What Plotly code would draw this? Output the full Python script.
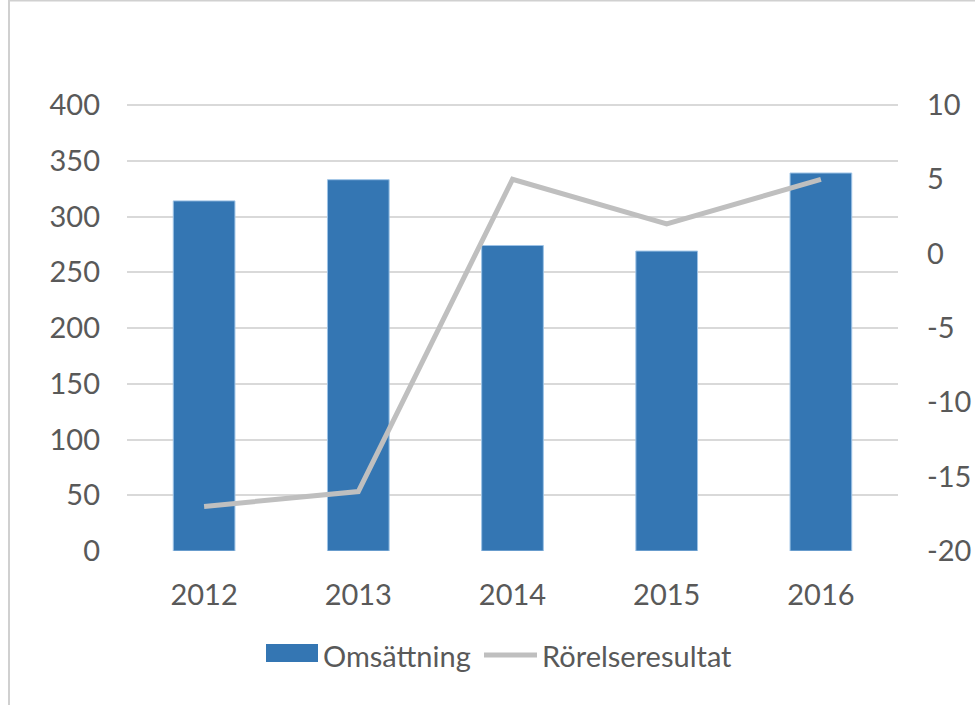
import plotly.graph_objects as go

years = ["2012", "2013", "2014", "2015", "2016"]
omsattning = [314, 333, 274, 269, 339]
rorelseresultat = [-17, -16, 5, 2, 5]
left_ticks = [0, 50, 100, 150, 200, 250, 300, 350, 400]
right_ticks = [-20, -15, -10, -5, 0, 5, 10]
right_tick_text = ["-20", "-15", "-10", "-5", "0", "5", "10"]
series_names = ["Omsättning", "Rörelseresultat"]

FONT = "Lato, Open Sans, sans-serif"
TXT = "#595959"
BAR_C = "#3476B3"
LINE_C = "#BFBFBF"
FS = 29

# plot area in pixels: x 127..898, y 101..551 (value 400 sits at y=105)
L, R, T, B = 127, 898, 101, 551
HEADROOM_PX = 4
def px(X):
    return (X - L) / (R - L)
def py(Y):
    return (B - Y) / (B - T)

# small headroom so the top gridline is drawn inside the plot area
pad = HEADROOM_PX / (B - T - HEADROOM_PX)
y1_range = [0, 400 * (1 + pad)]
y2_range = [-20, 10 + 30 * pad]

fig = go.Figure()
fig.add_trace(go.Bar(
    x=years, y=omsattning, name=series_names[0],
    marker=dict(color=BAR_C, line=dict(color="#9DC3E6", width=1)),
    yaxis="y", showlegend=False,
))
fig.add_trace(go.Scatter(
    x=years, y=rorelseresultat, name=series_names[1], mode="lines",
    line=dict(color=LINE_C, width=5),
    yaxis="y2", showlegend=False,
))

shapes = [
    # outer chart border
    dict(type="rect", xref="paper", yref="paper",
         x0=px(9), x1=px(990), y0=py(720), y1=py(0.5),
         line=dict(color="#D0D0D0", width=2), layer="below"),
    # legend swatches
    dict(type="rect", xref="paper", yref="paper",
         x0=px(266), x1=px(318), y0=py(662), y1=py(644),
         fillcolor=BAR_C, line=dict(width=0)),
    dict(type="line", xref="paper", yref="paper",
         x0=px(484), x1=px(537), y0=py(655), y1=py(655),
         line=dict(color=LINE_C, width=5)),
]
annotations = [
    dict(text=series_names[0], xref="paper", yref="paper", x=px(321), y=py(655),
         xanchor="left", yanchor="middle", showarrow=False,
         font=dict(family=FONT, size=FS, color=TXT)),
    dict(text=series_names[1], xref="paper", yref="paper", x=px(540), y=py(655),
         xanchor="left", yanchor="middle", showarrow=False,
         font=dict(family=FONT, size=FS, color=TXT)),
]

fig.update_layout(
    width=975, height=705,
    margin=dict(l=L, r=975 - R, t=T, b=705 - B, autoexpand=False),
    paper_bgcolor="white", plot_bgcolor="white",
    font=dict(family=FONT, size=FS, color=TXT),
    bargap=0.6,
    showlegend=False,
    xaxis=dict(showgrid=False, showline=False, ticks="", tickfont=dict(size=FS, color=TXT),
               ticklabelstandoff=24),
    yaxis=dict(range=y1_range, tickvals=left_ticks, showgrid=True, gridcolor="#D9D9D9",
               gridwidth=2, zeroline=False, ticks="", showline=False,
               tickfont=dict(size=FS, color=TXT), ticklabelstandoff=26),
    yaxis2=dict(range=y2_range, tickvals=right_ticks, ticktext=right_tick_text,
                overlaying="y", side="right",
                showgrid=False, zeroline=False, ticks="", showline=False,
                tickfont=dict(size=FS, color=TXT), ticklabelstandoff=28),
    shapes=shapes,
    annotations=annotations,
)

fig.write_html("out.html", config={"displayModeBar": False},
               post_script="document.body.style.margin='0';document.body.style.overflow='hidden';")
